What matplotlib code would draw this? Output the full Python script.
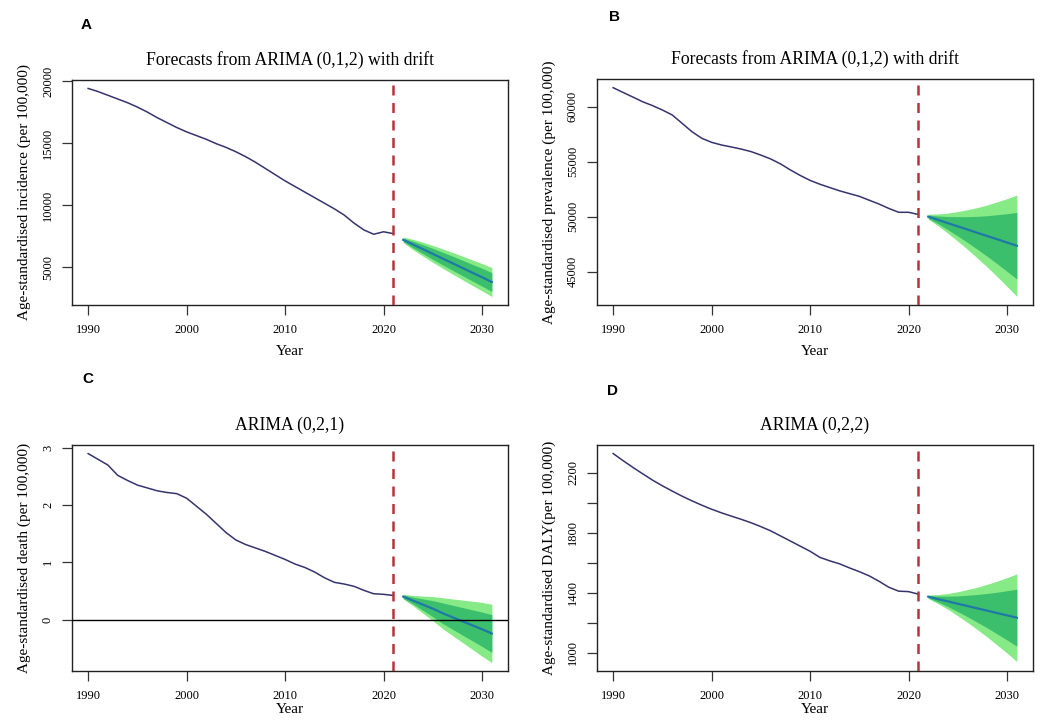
import numpy as np
import matplotlib
matplotlib.use("Agg")
import matplotlib.pyplot as plt

# ---------------- data ----------------
years_hist = list(range(1990, 2022))
years_fc = list(range(2022, 2032))

inc_hist = [19400, 19150, 18850, 18550, 18250, 17900, 17500, 17050, 16650, 16250,
            15900, 15600, 15300, 14950, 14650, 14300, 13900, 13450, 12950, 12450,
            11950, 11500, 11050, 10600, 10150, 9700, 9200, 8550, 8000, 7650, 7850, 7700]
inc_mean = [7200, 6820, 6450, 6070, 5690, 5320, 4940, 4560, 4190, 3800]
inc_hi80 = [7340, 7090, 6810, 6510, 6200, 5890, 5560, 5230, 4910, 4560]
inc_lo80 = [7060, 6550, 6090, 5630, 5180, 4750, 4320, 3890, 3470, 3040]
inc_hi95 = [7420, 7240, 7010, 6750, 6470, 6190, 5890, 5590, 5290, 4970]
inc_lo95 = [6980, 6400, 5890, 5390, 4910, 4450, 3990, 3530, 3090, 2630]

prev_hist = [61730, 61300, 60880, 60450, 60100, 59700, 59250, 58490, 57730, 57130,
             56760, 56520, 56340, 56150, 55920, 55600, 55250, 54800, 54250, 53750,
             53300, 52950, 52650, 52350, 52100, 51850, 51500, 51150, 50750, 50400, 50400, 50200]
prev_mean = [50000, 49710, 49410, 49120, 48830, 48530, 48240, 47950, 47650, 47360]
prev_hi80 = [50150, 50060, 50010, 50000, 50010, 50030, 50090, 50180, 50270, 50390]
prev_lo80 = [49850, 49360, 48810, 48240, 47650, 47030, 46390, 45720, 45030, 44330]
prev_hi95 = [50230, 50250, 50330, 50470, 50640, 50830, 51070, 51350, 51640, 51970]
prev_lo95 = [49770, 49170, 48490, 47770, 47020, 46230, 45410, 44550, 43660, 42750]

death_hist = [2.90, 2.80, 2.70, 2.52, 2.43, 2.35, 2.30, 2.25, 2.22, 2.20,
              2.12, 1.98, 1.84, 1.68, 1.52, 1.39, 1.31, 1.25, 1.19, 1.12,
              1.05, 0.97, 0.91, 0.83, 0.73, 0.65, 0.62, 0.58, 0.51, 0.45, 0.44, 0.42]
death_mean = [0.40, 0.33, 0.26, 0.19, 0.11, 0.04, -0.03, -0.10, -0.17, -0.245]
death_hi80 = [0.43, 0.39, 0.36, 0.33, 0.29, 0.25, 0.21, 0.17, 0.13, 0.085]
death_lo80 = [0.37, 0.27, 0.16, 0.05, -0.07, -0.17, -0.27, -0.37, -0.47, -0.575]
death_hi95 = [0.44, 0.42, 0.41, 0.40, 0.38, 0.36, 0.34, 0.32, 0.30, 0.265]
death_lo95 = [0.36, 0.24, 0.11, -0.02, -0.16, -0.28, -0.40, -0.52, -0.64, -0.755]

daly_hist = [2327, 2280, 2235, 2192, 2150, 2112, 2077, 2043, 2012, 1983,
             1956, 1932, 1910, 1889, 1866, 1840, 1812, 1778, 1744, 1710,
             1676, 1635, 1612, 1592, 1565, 1540, 1512, 1476, 1436, 1410, 1407, 1390]
daly_mean = [1373, 1357, 1342, 1326, 1311, 1295, 1280, 1264, 1249, 1233]
daly_hi80 = [1381, 1377, 1377, 1378, 1383, 1388, 1395, 1403, 1413, 1423]
daly_lo80 = [1365, 1337, 1307, 1274, 1239, 1202, 1165, 1125, 1085, 1043]
daly_hi95 = [1385, 1387, 1395, 1406, 1421, 1437, 1456, 1477, 1500, 1525]
daly_lo95 = [1361, 1327, 1289, 1246, 1201, 1153, 1104, 1051, 998, 941]

x_ticks = [1990, 2000, 2010, 2020, 2030]

# ---------------- style ----------------
SERIF = "Liberation Serif"
HIST_COL = "#35346e"
MEAN_COL = "#1f78a8"
C95 = "#86ea86"
C80 = "#3cbf6c"
RED = "#b8323a"

W, H = 1040, 722
fig = plt.figure(figsize=(W / 100, H / 100), dpi=100)


def axes_px(left, top, right, bottom):
    return fig.add_axes([left / W, 1 - bottom / H, (right - left) / W, (bottom - top) / H])


panels = [
    dict(letter="A", lpos=(86, 25), box=(72, 80, 508, 305),
         title="Forecasts from ARIMA (0,1,2) with drift",
         ylabel="Age-standardised incidence (per 100,000)",
         hist=inc_hist, mean=inc_mean, lo80=inc_lo80, hi80=inc_hi80, lo95=inc_lo95, hi95=inc_hi95,
         ylim=(1950, 20080), yticks=[5000, 10000, 15000, 20000],
         ylabels=["5000", "10000", "15000", "20000"], zero=False, xlpad=6),
    dict(letter="B", lpos=(615, 17), box=(597, 79, 1033, 305),
         title="Forecasts from ARIMA (0,1,2) with drift",
         ylabel="Age-standardised prevalence (per 100,000)",
         hist=prev_hist, mean=prev_mean, lo80=prev_lo80, hi80=prev_hi80, lo95=prev_lo95, hi95=prev_hi95,
         ylim=(41970, 62520), yticks=[45000, 50000, 55000, 60000],
         ylabels=["45000", "50000", "55000", "60000"], zero=False, xlpad=6),
    dict(letter="C", lpos=(88, 379), box=(72, 445, 508, 671),
         title="ARIMA (0,2,1)",
         ylabel="Age-standardised death (per 100,000)",
         hist=death_hist, mean=death_mean, lo80=death_lo80, hi80=death_hi80, lo95=death_lo95, hi95=death_hi95,
         ylim=(-0.90, 3.05), yticks=[0, 1, 2, 3],
         ylabels=["0", "1", "2", "3"], zero=True, xlpad=0.5),
    dict(letter="D", lpos=(613, 391), box=(597, 445, 1033, 671),
         title="ARIMA (0,2,2)",
         ylabel="Age-standardised DALY(per 100,000)",
         hist=daly_hist, mean=daly_mean, lo80=daly_lo80, hi80=daly_hi80, lo95=daly_lo95, hi95=daly_hi95,
         ylim=(878, 2384), yticks=[1000, 1200, 1400, 1600, 1800, 2000, 2200],
         ylabels=["1000", "", "1400", "", "1800", "", "2200"], zero=False, xlpad=0.5),
]

for p in panels:
    ax = axes_px(*p["box"])
    ax.fill_between(years_fc, p["lo95"], p["hi95"], color=C95, linewidth=0, zorder=1)
    ax.fill_between(years_fc, p["lo80"], p["hi80"], color=C80, linewidth=0, zorder=2)
    ax.plot(years_fc, p["mean"], color=MEAN_COL, lw=1.6, zorder=3)
    ax.plot(years_hist, p["hist"], color=HIST_COL, lw=1.1, zorder=3)
    ax.axvline(2021, color=RED, lw=1.8, ls=(0, (4, 3)), zorder=4)
    if p["zero"]:
        ax.axhline(0, color="black", lw=1.0, zorder=4)
    ax.set_xlim(1988.36, 2032.64)
    ax.set_ylim(*p["ylim"])
    ax.set_xticks(x_ticks)
    ax.set_xticklabels([str(t) for t in x_ticks], fontfamily=SERIF, fontsize=9)
    ax.set_yticks(p["yticks"])
    ax.set_yticklabels(p["ylabels"], fontfamily=SERIF, fontsize=9, rotation=90, va="center")
    ax.tick_params(direction="out", length=7, width=0.9, color="#333333")
    ax.tick_params(axis="x", pad=7)
    ax.tick_params(axis="y", pad=6)
    for s in ax.spines.values():
        s.set_linewidth(1.0)
        s.set_color("#222222")
    ax.set_title(p["title"], fontfamily=SERIF, fontsize=12.7, pad=11)
    ax.set_xlabel("Year", fontfamily=SERIF, fontsize=11, labelpad=p["xlpad"])
    ax.set_ylabel(p["ylabel"], fontfamily=SERIF, fontsize=11, labelpad=8)
    lx, ly = p["lpos"]
    fig.text(lx / W, 1 - ly / H, p["letter"], fontfamily="Liberation Sans", fontweight="bold",
             fontsize=11, ha="center", va="center")

fig.savefig("out.png", dpi=100, facecolor="white")
